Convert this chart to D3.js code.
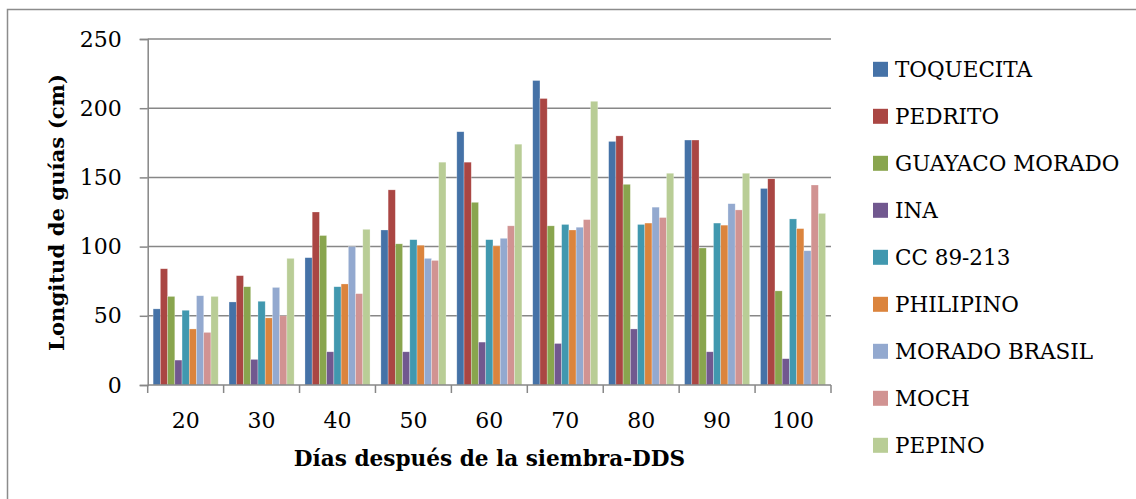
<!DOCTYPE html>
<html>
<head>
<meta charset="utf-8">
<script src="https://cdn.jsdelivr.net/npm/d3@7/dist/d3.min.js"></script>
<style>
  html, body { margin: 0; padding: 0; background: #fff; }
  svg { display: block; }
  text { font-family: "DejaVu Serif", serif; fill: #000; }
</style>
</head>
<body>
<svg id="chart" width="1136" height="499"></svg>
<script>
// Days after sowing (x categories)
const days = ["20", "30", "40", "50", "60", "70", "80", "90", "100"];

// Varieties (series)
const varieties = ["TOQUECITA", "PEDRITO", "GUAYACO MORADO", "INA", "CC 89-213",
                   "PHILIPINO", "MORADO BRASIL", "MOCH", "PEPINO"];

// Vine length (cm) per variety, one value per sampling day
const toquecita    = [55, 60, 92, 112, 183, 220, 176, 177, 142];
const pedrito      = [84, 79, 125, 141, 161, 207, 180, 177, 149];
const guayacoMorado= [64, 71, 108, 102, 132, 115, 145, 99, 68];
const ina          = [18, 18.5, 24, 24, 31, 30, 40.5, 24, 19];
const cc89213      = [54, 60.5, 71, 105, 105, 116, 116, 117, 120];
const philipino    = [40.5, 48.5, 73, 101, 100.5, 112, 117, 115.5, 113];
const moradoBrasil = [64.5, 70.5, 100, 91.5, 106, 114, 128.5, 131, 97];
const moch         = [38, 50, 66, 90, 115, 119.5, 121, 126.5, 144.5];
const pepino       = [64, 91.5, 112.5, 161, 174, 205, 153, 153, 124];

const yTicks = [0, 50, 100, 150, 200, 250];

const colors = ["#4572A7", "#AA4643", "#89A54E", "#71588F", "#4198AF",
                "#DB843D", "#93A9CF", "#D19392", "#B9CD96"];

const seriesValues = [toquecita, pedrito, guayacoMorado, ina, cc89213,
                      philipino, moradoBrasil, moch, pepino];

const rows = days.map((d, i) => {
  const r = { day: d };
  varieties.forEach((v, j) => { r[v] = seriesValues[j][i]; });
  return r;
});

const svg = d3.select("#chart");

// Outer frame
svg.append("rect")
  .attr("x", 7.5).attr("y", 9.5)
  .attr("width", 1140).attr("height", 500)
  .attr("fill", "none").attr("stroke", "#8c8c8c").attr("stroke-width", 1.5);

const plot = { left: 147.7, right: 831, top: 39, bottom: 385 };

const x0 = d3.scaleBand()
  .domain(days)
  .range([plot.left, plot.right])
  .paddingInner(0).paddingOuter(0);

const x1 = d3.scaleBand()
  .domain(varieties)
  .range([0, x0.bandwidth()])
  .paddingOuter(0.75).paddingInner(0);

const y = d3.scaleLinear().domain([0, 250]).range([plot.bottom, plot.top]);

// Horizontal gridlines
svg.append("g")
  .selectAll("line")
  .data(yTicks.filter(t => t > 0))
  .join("line")
  .attr("x1", plot.left).attr("x2", plot.right)
  .attr("y1", d => y(d)).attr("y2", d => y(d))
  .attr("stroke", "#878787").attr("stroke-width", 1.5);

// Bars
const groups = svg.append("g")
  .selectAll("g")
  .data(rows)
  .join("g")
  .attr("transform", d => `translate(${x0(d.day)},0)`);

groups.selectAll("rect")
  .data(d => varieties.map((v, j) => ({ key: v, value: d[v], color: colors[j] })))
  .join("rect")
  .attr("x", d => x1(d.key))
  .attr("width", x1.bandwidth())
  .attr("y", d => y(d.value))
  .attr("height", d => plot.bottom - y(d.value))
  .attr("fill", d => d.color)
  .attr("stroke", "rgba(255,255,255,0.45)")
  .attr("stroke-width", 0.6);

// Y axis
const yAxis = svg.append("g")
  .attr("transform", `translate(${plot.left},0)`)
  .call(d3.axisLeft(y).tickValues(yTicks).tickSize(8).tickPadding(18).tickFormat(d3.format("d")));
yAxis.select(".domain").attr("stroke", "#878787").attr("stroke-width", 1.5);
yAxis.selectAll(".tick line").attr("stroke", "#878787").attr("stroke-width", 1.5);
yAxis.selectAll(".tick text")
  .attr("font-family", "DejaVu Serif").attr("font-size", 22).attr("fill", "#000");

// X axis: ticks on category boundaries
const xAxisG = svg.append("g").attr("transform", `translate(0,${plot.bottom})`);
xAxisG.append("line")
  .attr("x1", plot.left).attr("x2", plot.right)
  .attr("stroke", "#878787").attr("stroke-width", 1.5);
const boundaries = days.map(d => x0(d)).concat([x0(days[days.length - 1]) + x0.bandwidth()]);
xAxisG.selectAll("line.b")
  .data(boundaries)
  .join("line").attr("class", "b")
  .attr("x1", d => d).attr("x2", d => d)
  .attr("y1", 0).attr("y2", 8)
  .attr("stroke", "#878787").attr("stroke-width", 1.5);
xAxisG.selectAll("text")
  .data(days)
  .join("text")
  .attr("x", d => x0(d) + x0.bandwidth() / 2)
  .attr("y", 43)
  .attr("text-anchor", "middle")
  .attr("font-size", 22)
  .text(d => d);

// Axis titles
svg.append("text")
  .attr("transform", "translate(64,212.5) rotate(-90)")
  .attr("text-anchor", "middle")
  .attr("font-weight", "bold")
  .attr("font-size", 21.2)
  .text("Longitud de guías (cm)");

svg.append("text")
  .attr("x", 489.5).attr("y", 466)
  .attr("text-anchor", "middle")
  .attr("font-weight", "bold")
  .attr("font-size", 21.6)
  .text("Días después de la siembra-DDS");

// Legend
const legend = svg.append("g").attr("transform", "translate(873,69.3)");
const items = legend.selectAll("g")
  .data(varieties)
  .join("g")
  .attr("transform", (d, i) => `translate(0,${i * 47})`);
items.append("rect")
  .attr("x", 0).attr("y", -7.5)
  .attr("width", 15).attr("height", 15)
  .attr("fill", (d, i) => colors[i]);
items.append("text")
  .attr("x", 22).attr("y", 8)
  .attr("font-size", 21.5)
  .text(d => d);
</script>
</body>
</html>
